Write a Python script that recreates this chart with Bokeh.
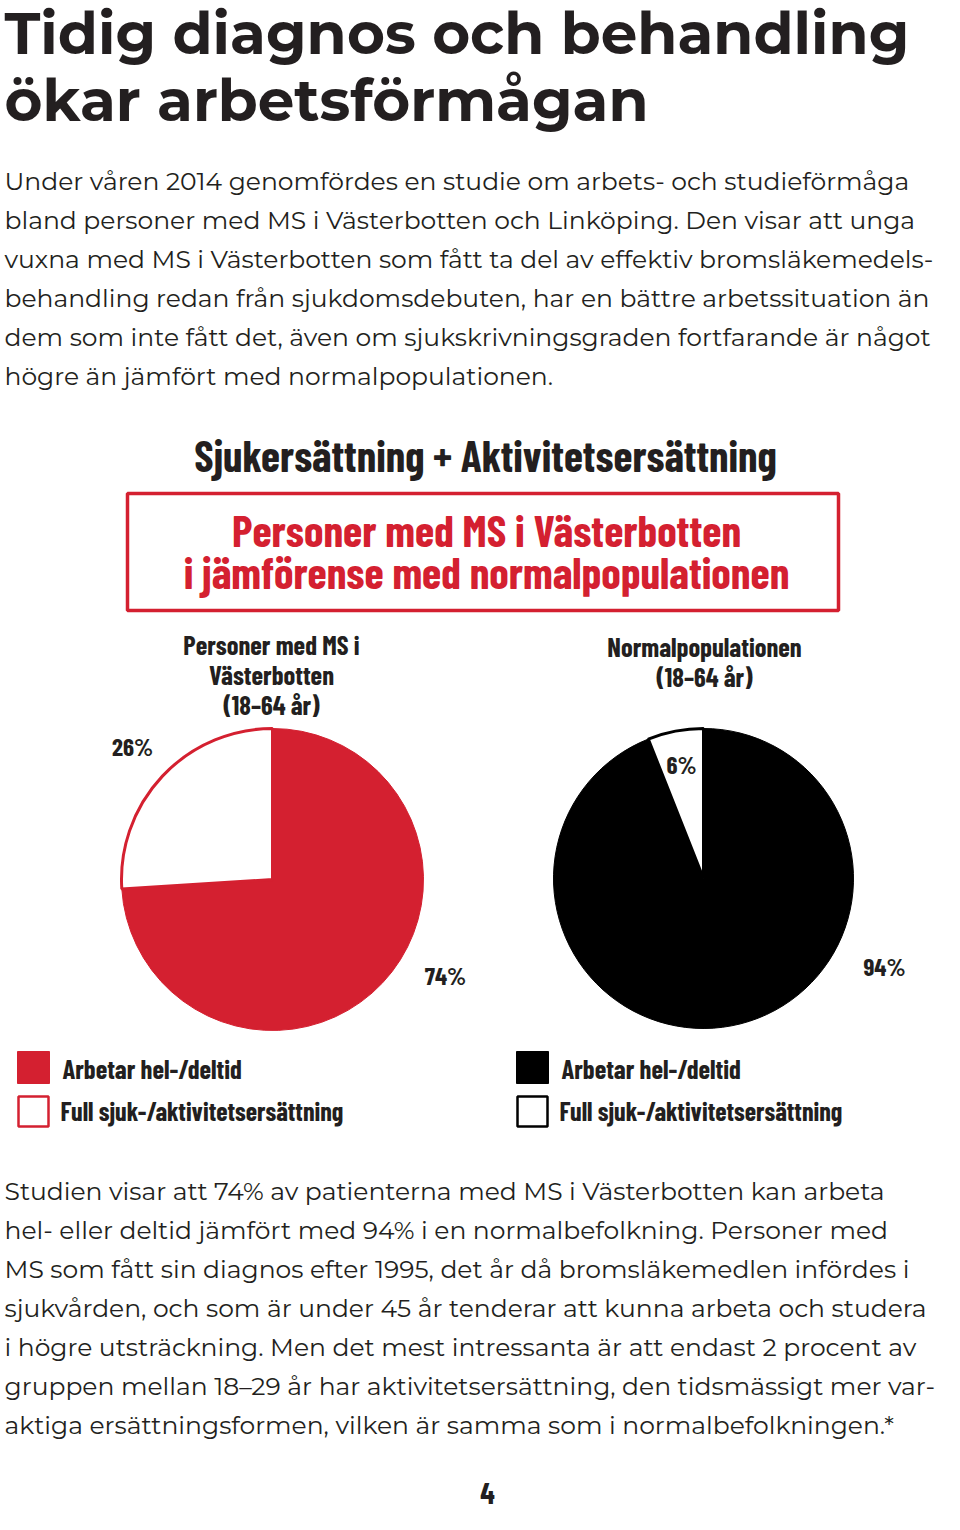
import numpy as np
from bokeh.plotting import figure
from bokeh.models import Range1d
from bokeh.core.properties import value
from bokeh.embed import file_html
from bokeh.resources import INLINE

# ---------------- data ----------------
title_lines = ["Tidig diagnos och behandling", "ökar arbetsförmågan"]
intro_lines = [
    "Under våren 2014 genomfördes en studie om arbets- och studieförmåga",
    "bland personer med MS i Västerbotten och Linköping. Den visar att unga",
    "vuxna med MS i Västerbotten som fått ta del av effektiv bromsläkemedels-",
    "behandling redan från sjukdomsdebuten, har en bättre arbetssituation än",
    "dem som inte fått det, även om sjukskrivningsgraden fortfarande är något",
    "högre än jämfört med normalpopulationen.",
]
outro_lines = [
    "Studien visar att 74% av patienterna med MS i Västerbotten kan arbeta",
    "hel- eller deltid jämfört med 94% i en normalbefolkning. Personer med",
    "MS som fått sin diagnos efter 1995, det år då bromsläkemedlen infördes i",
    "sjukvården, och som är under 45 år tenderar att kunna arbeta och studera",
    "i högre utsträckning. Men det mest intressanta är att endast 2 procent av",
    "gruppen mellan 18–29 år har aktivitetsersättning, den tidsmässigt mer var-",
    "aktiga ersättningsformen, vilken är samma som i normalbefolkningen.*",
]
chart_title = "Sjukersättning + Aktivitetsersättning"
box_lines = ["Personer med MS i Västerbotten", "i jämförense med normalpopulationen"]
ms_group = ["Personer med MS i", "Västerbotten", "(18–64 år)"]
norm_group = ["Normalpopulationen", "(18–64 år)"]
categories = ["Arbetar hel-/deltid", "Full sjuk-/aktivitetsersättning"]
ms_values = [74, 26]
norm_values = [94, 6]
page_number = "4"

# ---------------- styles ----------------
RED = "#d42030"
INK = "#231f20"
BLACK = "#000000"
SANS = "Montserrat"
COND = "Barlow Condensed"
BASE_SHIFT = 0.41   # compensation of the rendered baseline, in em

W, H = 944, 1514
p = figure(width=W, height=H, output_backend="svg", toolbar_location=None,
           x_range=Range1d(0, W), y_range=Range1d(H, 0),
           min_border=0, outline_line_color=None)
p.axis.visible = False
p.grid.visible = False
p.background_fill_color = "white"
p.border_fill_color = "white"


def lines(texts, x, y0, dy, font, size, color, style="normal", align="left"):
    ys = [y0 + i * dy - BASE_SHIFT * size for i in range(len(texts))]
    p.text(x=[x] * len(texts), y=ys, text=texts, text_font=value(font),
           text_font_size=f"{size}px", text_color=color, text_font_style=style,
           text_align=align, text_baseline="alphabetic")


# headline
lines(title_lines, 4, 57, 67, SANS, 58, INK, "bold")
# intro paragraph
lines(intro_lines, 4, 191, 39, SANS, 25, INK)

# chart title
lines([chart_title], 485, 472, 0, COND, 43.5, INK, "bold", "center")
# red framed box
p.quad(left=[127], right=[838], top=[493], bottom=[610], fill_color=None,
       line_color=RED, line_width=3.5)
lines(box_lines, 486, 547, 42, COND, 44, RED, "bold", "center")

# group titles
lines(ms_group, 271, 654, 30, COND, 26.5, INK, "bold", "center")
lines(norm_group, 704, 656, 30, COND, 26.5, INK, "bold", "center")


def pie(cx, cy, r, vals, color):
    total = float(sum(vals))
    start = np.pi / 2
    # second category (white) counter-clockwise from 12 o'clock
    w_end = start + 2 * np.pi * vals[1] / total
    p.wedge(x=[cx], y=[cy], radius=r, start_angle=[w_end],
            end_angle=[start + 2 * np.pi], fill_color=color, line_color=color,
            line_width=1)
    p.wedge(x=[cx], y=[cy], radius=r, start_angle=[start], end_angle=[w_end],
            fill_color="white", line_color=color, line_width=3)


pie(272, 879, 151, ms_values, RED)
pie(703, 878, 150, norm_values, BLACK)

# percentage labels
lines([f"{ms_values[1]}%"], 132, 756, 0, COND, 25, INK, "bold", "center")
lines([f"{norm_values[1]}%"], 681, 774, 0, COND, 25, INK, "bold", "center")
lines([f"{ms_values[0]}%"], 445, 985, 0, COND, 25, INK, "bold", "center")
lines([f"{norm_values[0]}%"], 884, 976, 0, COND, 25, INK, "bold", "center")

# legends
for x0, col in ((17, RED), (516, BLACK)):
    p.quad(left=[x0], right=[x0 + 32], top=[1051], bottom=[1083],
           fill_color=col, line_color=col, line_width=1)
    p.quad(left=[x0 + 1], right=[x0 + 31], top=[1096], bottom=[1126],
           fill_color="white", line_color=col, line_width=2.5)
    lines([categories[0]], x0 + 45, 1078, 0, COND, 26.5, INK, "bold")
    lines([categories[1]], x0 + 43, 1121, 0, COND, 26, INK, "bold")

# closing paragraph
lines(outro_lines, 4, 1201, 39, SANS, 25, INK)

# page number
lines([page_number], 487, 1505, 0, COND, 30, INK, "bold", "center")

open("out.html", "w").write(file_html(p, INLINE))
